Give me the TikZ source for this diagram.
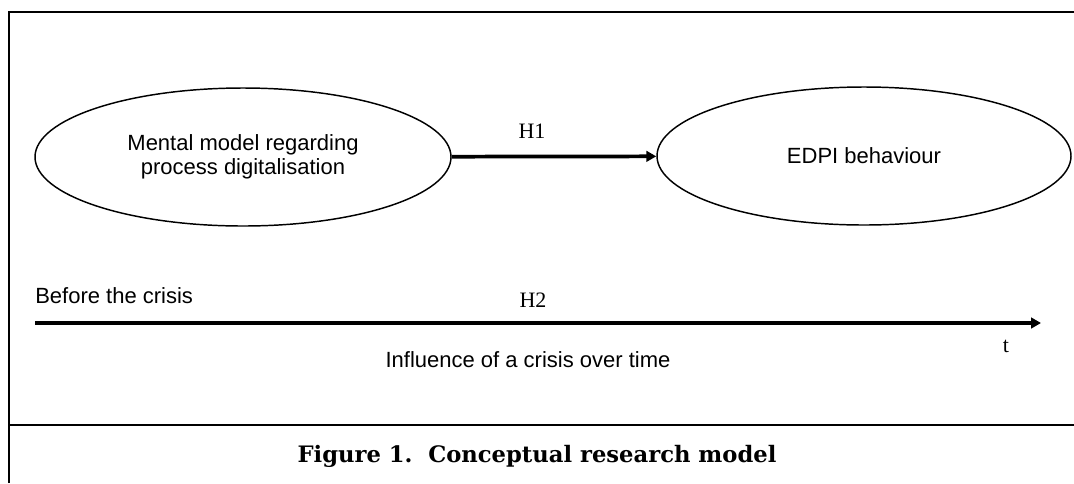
\documentclass[tikz,border=0pt]{standalone}
\usepackage{fontspec}
\setmainfont{Liberation Serif}
\setsansfont{Liberation Sans}
\newfontfamily\capfont{DejaVu Serif}
\usetikzlibrary{shapes.geometric,arrows.meta,positioning}

\begin{document}
\begin{tikzpicture}[x=0.75pt,y=-0.75pt,
    concept/.style={draw,ellipse,line width=1.1pt,inner sep=0pt,
      font=\sffamily\fontsize{16.5}{18}\selectfont,align=center},
    note/.style={inner sep=0pt,font=\sffamily\fontsize{16.5}{18}\selectfont},
    hyp/.style={inner sep=0pt,font=\fontsize{16.5}{18}\selectfont},
    link/.style={line width=2.8pt,-{Triangle[length=7.5pt,width=8pt]}},
    frame/.style={line width=2.2pt}]
  \useasboundingbox (0,0) rectangle (1074,483);
  % outer frame and caption rule
  \draw[frame] (9,483) -- (9,12) -- (1074,12);
  \draw[frame] (9,425) -- (1074,425);

  \node[concept,minimum width=312pt,minimum height=103.5pt] (mental) at (243,157)
    {Mental model regarding\\process digitalisation};
  \node[concept,minimum width=310.5pt,minimum height=103.5pt] (edpi) at (864,156)
    {EDPI behaviour};
  \draw[link] (mental) -- (edpi);
  \node[hyp] (h1) at (532,131) {H1};

  % time axis
  \coordinate (tstart) at (35,323);
  \coordinate (tend) at (1041,323);
  \draw[link] (tstart) -- (tend);
  \node[note,anchor=base west] (before) at (35,303) {Before the crisis};
  \node[hyp] (h2) at (533,300) {H2};
  \node[hyp] (t) at (1006,346) {t};
  \node[note,anchor=base] (influence) at (528,367) {Influence of a crisis over time};

  \node[font=\capfont\bfseries\fontsize{17}{20}\selectfont] (caption) at (537,456)
    {Figure 1.\ \ Conceptual research model};
\end{tikzpicture}
\end{document}
